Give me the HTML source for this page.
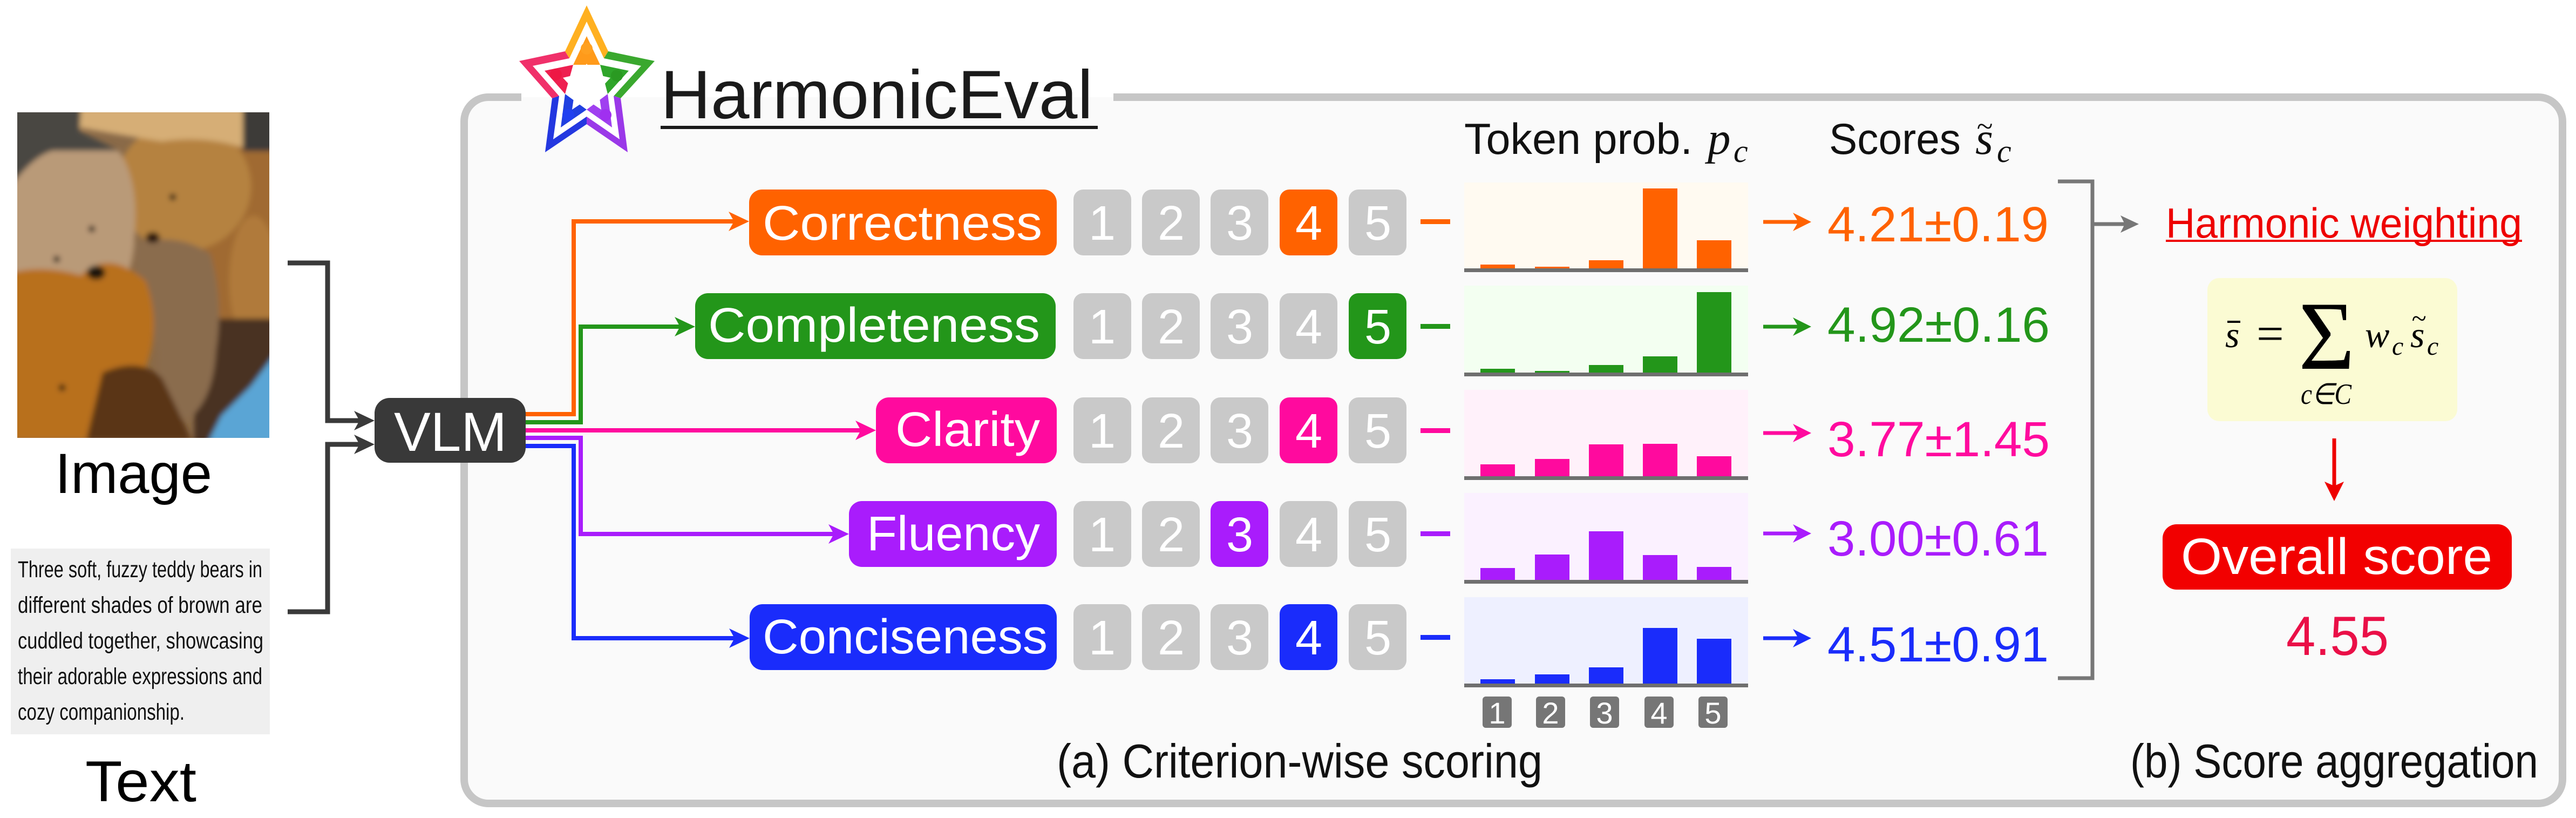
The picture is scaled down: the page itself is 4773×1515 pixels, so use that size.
<!DOCTYPE html>
<html><head><meta charset="utf-8"><style>
html,body{margin:0;padding:0;background:#fff;}
body{width:4773px;height:1515px;overflow:hidden;}
svg{display:block;}
.s{font-family:"Liberation Sans",sans-serif;}
.m{font-family:"Liberation Serif",serif;font-style:italic;}
</style></head><body>
<svg width="4773" height="1515" viewBox="0 0 4773 1515" xmlns="http://www.w3.org/2000/svg">
<defs>
<clipPath id="pc"><rect x="32" y="208" width="467" height="603"/></clipPath>
<filter id="bl" x="-10%" y="-10%" width="120%" height="120%"><feGaussianBlur stdDeviation="5"/></filter>
</defs>
<rect width="4773" height="1515" fill="#fff"/>

<!-- Panel -->
<rect x="860" y="180" width="3888" height="1308" rx="45" fill="#fafafa"/>
<path d="M966,180 H905 A45,45 0 0 0 860,225 V1443 A45,45 0 0 0 905,1488 H4703 A45,45 0 0 0 4748,1443 V225 A45,45 0 0 0 4703,180 H2063" fill="none" stroke="#c6c6c6" stroke-width="14"/>

<!-- Photo -->
<g clip-path="url(#pc)">
<rect x="32" y="208" width="467" height="603" fill="#8a6a48"/>
<g filter="url(#bl)">
<!-- right brown bear -->
<rect x="360" y="270" width="150" height="400" fill="#a06a32"/>
<ellipse cx="470" cy="520" rx="45" ry="120" fill="#b07a3a"/>
<!-- dark under-arm bottom right -->
<rect x="360" y="590" width="150" height="230" fill="#4a3020"/>
<!-- golden bear face -->
<ellipse cx="340" cy="345" rx="125" ry="120" fill="#b5823f"/>
<!-- light cream top of golden bear -->
<path d="M140,200 L460,200 L455,275 Q380,250 300,262 Q220,250 140,235 Z" fill="#d6ae76"/>
<!-- dark background top-left -->
<polygon points="20,200 150,200 147,243 220,279 97,279 20,350" fill="#4a4642"/>
<rect x="450" y="200" width="60" height="80" fill="#3e3a38"/>
<!-- tan bear head -->
<path d="M20,345 Q60,290 97,279 L220,279 Q255,330 250,420 Q248,500 230,516 L20,520 Z" fill="#b99a78"/>
<!-- middle gray-brown arm -->
<path d="M250,450 Q330,430 390,470 Q415,560 400,650 Q395,740 350,775 Q300,780 290,720 Q300,650 280,600 Q250,560 250,450 Z" fill="#8a6c4e"/>
<!-- orange bear -->
<path d="M20,505 Q80,490 150,510 Q200,460 270,520 Q300,600 270,680 Q220,760 160,815 L20,815 Z" fill="#b8701f"/>
<!-- dark brown behind orange bear -->
<path d="M190,690 Q260,660 300,700 Q330,760 355,815 L160,815 Z" fill="#5a3518"/>
<!-- blue -->
<polygon points="510,655 510,820 385,820 410,770 465,715" fill="#5aa5d5"/>
<!-- eyes/nose -->
<circle cx="170" cy="424" r="6" fill="#1a1210"/>
<circle cx="105" cy="480" r="6" fill="#1a1210"/>
<ellipse cx="178" cy="505" rx="17" ry="13" fill="#1a1210"/>
<circle cx="320" cy="365" r="6" fill="#1a1210"/>
<ellipse cx="283" cy="440" rx="13" ry="10" fill="#2a1810"/>
<circle cx="115" cy="718" r="6" fill="#1a1210"/>
</g>
</g>
<text x="102" y="913" class="s" font-size="105" textLength="291" lengthAdjust="spacingAndGlyphs" fill="#000">Image</text>
<rect x="20" y="1016" width="480" height="344" fill="#efefef"/>
<g class="s" font-size="43" fill="#111">
<text x="33" y="1069" textLength="453" lengthAdjust="spacingAndGlyphs">Three soft, fuzzy teddy bears in</text>
<text x="33" y="1135" textLength="453" lengthAdjust="spacingAndGlyphs">different shades of brown are</text>
<text x="33" y="1201" textLength="455" lengthAdjust="spacingAndGlyphs">cuddled together, showcasing</text>
<text x="33" y="1267" textLength="453" lengthAdjust="spacingAndGlyphs">their adorable expressions and</text>
<text x="33" y="1333" textLength="309" lengthAdjust="spacingAndGlyphs">cozy companionship.</text>
</g>
<text x="158" y="1484" class="s" font-size="107" textLength="206" lengthAdjust="spacingAndGlyphs" fill="#000">Text</text>

<!-- Black connectors -->
<path d="M533,487 H607 V779 H670" fill="none" stroke="#3a3a3a" stroke-width="9"/>
<path d="M533,1133 H607 V823 H670" fill="none" stroke="#3a3a3a" stroke-width="9"/>
<polygon points="694,779 656,761 666,779 656,797" fill="#3a3a3a"/>
<polygon points="694,823 656,805 666,823 656,841" fill="#3a3a3a"/>

<!-- Colored lines -->
<g fill="none" stroke-width="8">
<path d="M970,767 H1063 V410 H1362" stroke="#ff6200"/>
<path d="M970,782 H1076 V605 H1262" stroke="#23961a"/>
<path d="M970,797 H1597" stroke="#ff0a9e"/>
<path d="M970,811 H1076 V989 H1547" stroke="#a91cfc"/>
<path d="M970,826 H1063 V1182 H1363" stroke="#1a2cfb"/>
</g>
<polygon points="1388,410 1350,392 1360,410 1350,428" fill="#ff6200"/>
<polygon points="1288,605 1250,587 1260,605 1250,623" fill="#23961a"/>
<polygon points="1623,797 1585,779 1595,797 1585,815" fill="#ff0a9e"/>
<polygon points="1573,989 1535,971 1545,989 1535,1007" fill="#a91cfc"/>
<polygon points="1389,1182 1351,1164 1361,1182 1351,1200" fill="#1a2cfb"/>

<!-- VLM -->
<rect x="694" y="737" width="280" height="120" rx="28" fill="#393939"/>
<text x="730" y="835" class="s" font-size="102" textLength="209" lengthAdjust="spacingAndGlyphs" fill="#fff">VLM</text>

<!-- Logo -->
<g>
<polygon points="1087,10 1127,95 1087,160 1047,95" fill="#ffb020"/>
<polygon points="1213,113 1150,182 1087,160 1127,95" fill="#3aa82e"/>
<polygon points="1163,282 1087,230 1087,160 1150,182" fill="#9a38e8"/>
<polygon points="1010,282 1023,182 1087,160 1087,230" fill="#2438e0"/>
<polygon points="962,113 1047,95 1087,160 1023,182" fill="#f0306a"/>
<polygon points="1087,40 1119,108 1188,122 1137,178 1148,258 1087,216 1025,258 1036,178 987,122 1055,108" fill="#fff"/>
<polygon points="1087,67 1112,120 1062,120" fill="#ff9a1a"/>
<polygon points="1165,131 1126,174 1112,120" fill="#2fa52a"/>
<polygon points="1134,236 1087,203 1126,174" fill="#a040f0"/>
<polygon points="1039,236 1047,174 1087,203" fill="#2040e0"/>
<polygon points="1009,131 1062,120 1047,174" fill="#ee2050"/>
<polygon points="1087,118 1101,137 1131,144 1109,168 1114,203 1087,185 1060,203 1065,168 1043,144 1073,137" fill="#fff"/>
<circle cx="1087" cy="90" r="11" fill="#ffa020"/>
<circle cx="1030" cy="138" r="11" fill="#ee1844"/>
<circle cx="1143" cy="140" r="11" fill="#2a9a22"/>
<circle cx="1053" cy="213" r="11" fill="#2040f0"/>
<circle cx="1122" cy="213" r="11" fill="#a030f0"/>
</g>

<!-- Title -->
<text x="1224" y="219" class="s" font-size="127" textLength="801" lengthAdjust="spacingAndGlyphs" fill="#1a1a1a">HarmonicEval</text>
<rect x="1224" y="233" width="810" height="6" fill="#1a1a1a"/>

<!-- Label boxes -->
<rect x="1388" y="351" width="570" height="122" rx="24" fill="#ff6200"/>
<rect x="1288" y="543" width="668" height="122" rx="24" fill="#23961a"/>
<rect x="1623" y="736" width="335" height="122" rx="24" fill="#ff0a9e"/>
<rect x="1573" y="928" width="385" height="122" rx="24" fill="#a91cfc"/>
<rect x="1389" y="1119" width="569" height="122" rx="24" fill="#1a2cfb"/>
<g class="s" font-size="90" fill="#fff">
<text x="1413" y="444" textLength="518" lengthAdjust="spacingAndGlyphs">Correctness</text>
<text x="1312" y="633" textLength="615" lengthAdjust="spacingAndGlyphs">Completeness</text>
<text x="1659" y="826" textLength="268" lengthAdjust="spacingAndGlyphs">Clarity</text>
<text x="1606" y="1019" textLength="321" lengthAdjust="spacingAndGlyphs">Fluency</text>
<text x="1413" y="1210" textLength="528" lengthAdjust="spacingAndGlyphs">Conciseness</text>
</g>

<!-- Number boxes -->
<g>
<rect x="1989" y="351" width="107" height="122" rx="18" fill="#c9c9c9"/>
<rect x="2116" y="351" width="107" height="122" rx="18" fill="#c9c9c9"/>
<rect x="2243" y="351" width="107" height="122" rx="18" fill="#c9c9c9"/>
<rect x="2371" y="351" width="107" height="122" rx="18" fill="#ff6200"/>
<rect x="2499" y="351" width="107" height="122" rx="18" fill="#c9c9c9"/>
<rect x="1989" y="543" width="107" height="122" rx="18" fill="#c9c9c9"/>
<rect x="2116" y="543" width="107" height="122" rx="18" fill="#c9c9c9"/>
<rect x="2243" y="543" width="107" height="122" rx="18" fill="#c9c9c9"/>
<rect x="2371" y="543" width="107" height="122" rx="18" fill="#c9c9c9"/>
<rect x="2499" y="543" width="107" height="122" rx="18" fill="#23961a"/>
<rect x="1989" y="736" width="107" height="122" rx="18" fill="#c9c9c9"/>
<rect x="2116" y="736" width="107" height="122" rx="18" fill="#c9c9c9"/>
<rect x="2243" y="736" width="107" height="122" rx="18" fill="#c9c9c9"/>
<rect x="2371" y="736" width="107" height="122" rx="18" fill="#ff0a9e"/>
<rect x="2499" y="736" width="107" height="122" rx="18" fill="#c9c9c9"/>
<rect x="1989" y="928" width="107" height="122" rx="18" fill="#c9c9c9"/>
<rect x="2116" y="928" width="107" height="122" rx="18" fill="#c9c9c9"/>
<rect x="2243" y="928" width="107" height="122" rx="18" fill="#a91cfc"/>
<rect x="2371" y="928" width="107" height="122" rx="18" fill="#c9c9c9"/>
<rect x="2499" y="928" width="107" height="122" rx="18" fill="#c9c9c9"/>
<rect x="1989" y="1119" width="107" height="122" rx="18" fill="#c9c9c9"/>
<rect x="2116" y="1119" width="107" height="122" rx="18" fill="#c9c9c9"/>
<rect x="2243" y="1119" width="107" height="122" rx="18" fill="#c9c9c9"/>
<rect x="2371" y="1119" width="107" height="122" rx="18" fill="#1a2cfb"/>
<rect x="2499" y="1119" width="107" height="122" rx="18" fill="#c9c9c9"/>
</g>
<g class="s" font-size="90" fill="#fff" text-anchor="middle">
<text x="2042" y="444">1</text><text x="2170" y="444">2</text><text x="2297" y="444">3</text><text x="2425" y="444">4</text><text x="2553" y="444">5</text>
<text x="2042" y="636">1</text><text x="2170" y="636">2</text><text x="2297" y="636">3</text><text x="2425" y="636">4</text><text x="2553" y="636">5</text>
<text x="2042" y="829">1</text><text x="2170" y="829">2</text><text x="2297" y="829">3</text><text x="2425" y="829">4</text><text x="2553" y="829">5</text>
<text x="2042" y="1021">1</text><text x="2170" y="1021">2</text><text x="2297" y="1021">3</text><text x="2425" y="1021">4</text><text x="2553" y="1021">5</text>
<text x="2042" y="1212">1</text><text x="2170" y="1212">2</text><text x="2297" y="1212">3</text><text x="2425" y="1212">4</text><text x="2553" y="1212">5</text>
</g>

<!-- dashes -->
<rect x="2632" y="406" width="55" height="9" fill="#ff6200"/>
<rect x="2632" y="600" width="55" height="9" fill="#23961a"/>
<rect x="2632" y="793" width="55" height="9" fill="#ff0a9e"/>
<rect x="2632" y="984" width="55" height="9" fill="#a91cfc"/>
<rect x="2632" y="1176" width="55" height="9" fill="#1a2cfb"/>

<!-- Headers -->
<text x="2713" y="285" class="s" font-size="81" textLength="423" lengthAdjust="spacingAndGlyphs" fill="#111">Token prob.</text>
<text x="3164" y="285" class="m" font-size="85" fill="#111">p</text>
<text x="3212" y="300" class="m" font-size="60" fill="#111">c</text>
<text x="3389" y="285" class="s" font-size="81" textLength="244" lengthAdjust="spacingAndGlyphs" fill="#111">Scores</text>
<text x="3660" y="285" class="m" font-size="85" fill="#111">s</text>
<text x="3662" y="252" class="m" font-size="55" fill="#111">~</text>
<text x="3700" y="300" class="m" font-size="60" fill="#111">c</text>

<!-- Charts -->
<g>
<rect x="2713" y="338" width="526" height="160" fill="#fffaf1"/>
<rect x="2713" y="529" width="526" height="162" fill="#f3fff1"/>
<rect x="2713" y="722" width="526" height="161" fill="#fff1fa"/>
<rect x="2713" y="913" width="526" height="162" fill="#fbf1ff"/>
<rect x="2713" y="1106" width="526" height="161" fill="#eef0ff"/>
<g fill="#ff6200">
<rect x="2743" y="490" width="64" height="7"/><rect x="2844" y="494" width="64" height="3"/><rect x="2944" y="482" width="64" height="15"/><rect x="3044" y="349" width="64" height="148"/><rect x="3144" y="445" width="64" height="52"/>
</g>
<g fill="#23961a">
<rect x="2743" y="683" width="64" height="7"/><rect x="2844" y="687" width="64" height="3"/><rect x="2944" y="676" width="64" height="14"/><rect x="3044" y="660" width="64" height="30"/><rect x="3144" y="541" width="64" height="149"/>
</g>
<g fill="#ff0a9e">
<rect x="2743" y="860" width="64" height="22"/><rect x="2844" y="850" width="64" height="32"/><rect x="2944" y="823" width="64" height="59"/><rect x="3044" y="822" width="64" height="60"/><rect x="3144" y="845" width="64" height="37"/>
</g>
<g fill="#a91cfc">
<rect x="2743" y="1052" width="64" height="22"/><rect x="2844" y="1027" width="64" height="47"/><rect x="2944" y="984" width="64" height="90"/><rect x="3044" y="1028" width="64" height="46"/><rect x="3144" y="1050" width="64" height="24"/>
</g>
<g fill="#1a2cfb">
<rect x="2743" y="1258" width="64" height="8"/><rect x="2844" y="1249" width="64" height="17"/><rect x="2944" y="1236" width="64" height="30"/><rect x="3044" y="1163" width="64" height="103"/><rect x="3144" y="1183" width="64" height="83"/>
</g>
<g fill="#6f6f6f">
<rect x="2713" y="497" width="526" height="7"/>
<rect x="2713" y="690" width="526" height="7"/>
<rect x="2713" y="882" width="526" height="7"/>
<rect x="2713" y="1074" width="526" height="7"/>
<rect x="2713" y="1266" width="526" height="7"/>
</g>
<g fill="#767676">
<rect x="2747" y="1290" width="54" height="58" rx="6"/><rect x="2846" y="1290" width="54" height="58" rx="6"/><rect x="2946" y="1290" width="54" height="58" rx="6"/><rect x="3047" y="1290" width="54" height="58" rx="6"/><rect x="3147" y="1290" width="54" height="58" rx="6"/>
</g>
<g class="s" font-size="56" fill="#fff" text-anchor="middle">
<text x="2774" y="1340">1</text><text x="2873" y="1340">2</text><text x="2973" y="1340">3</text><text x="3074" y="1340">4</text><text x="3174" y="1340">5</text>
</g>
</g>

<!-- score arrows -->
<g stroke-width="7">
<line x1="3267" y1="411" x2="3338" y2="411" stroke="#ff6200"/>
<line x1="3267" y1="605" x2="3338" y2="605" stroke="#23961a"/>
<line x1="3267" y1="802" x2="3338" y2="802" stroke="#ff0a9e"/>
<line x1="3267" y1="988" x2="3338" y2="988" stroke="#a91cfc"/>
<line x1="3267" y1="1182" x2="3338" y2="1182" stroke="#1a2cfb"/>
</g>
<polygon points="3356,411 3322,394 3332,411 3322,428" fill="#ff6200"/>
<polygon points="3356,605 3322,588 3332,605 3322,622" fill="#23961a"/>
<polygon points="3356,802 3322,785 3332,802 3322,819" fill="#ff0a9e"/>
<polygon points="3356,988 3322,971 3332,988 3322,1005" fill="#a91cfc"/>
<polygon points="3356,1182 3322,1165 3332,1182 3322,1199" fill="#1a2cfb"/>

<!-- scores -->
<g class="s" font-size="92">
<text x="3386" y="447" textLength="410" lengthAdjust="spacingAndGlyphs" fill="#ff6200">4.21±0.19</text>
<text x="3386" y="633" textLength="412" lengthAdjust="spacingAndGlyphs" fill="#23961a">4.92±0.16</text>
<text x="3386" y="845" textLength="412" lengthAdjust="spacingAndGlyphs" fill="#ff0a9e">3.77±1.45</text>
<text x="3386" y="1029" textLength="410" lengthAdjust="spacingAndGlyphs" fill="#a91cfc">3.00±0.61</text>
<text x="3386" y="1225" textLength="410" lengthAdjust="spacingAndGlyphs" fill="#1a2cfb">4.51±0.91</text>
</g>

<!-- bracket -->
<path d="M3813,336 H3877 V1256 H3813" fill="none" stroke="#777" stroke-width="7"/>
<line x1="3877" y1="415" x2="3940" y2="415" stroke="#777" stroke-width="7"/>
<polygon points="3963,415 3929,399 3937,415 3929,431" fill="#777"/>

<!-- Right side -->
<text x="4013" y="440" class="s" font-size="78" textLength="660" lengthAdjust="spacingAndGlyphs" fill="#ee0000">Harmonic weighting</text>
<rect x="4013" y="444" width="660" height="4" fill="#ee0000"/>
<rect x="4090" y="515" width="463" height="265" rx="22" fill="#fbfbd3"/>
<text x="4123" y="643" class="m" font-size="68" fill="#000">s</text>
<rect x="4127" y="594" width="24" height="4" fill="#000"/>
<text x="4181" y="648" font-family="Liberation Serif, serif" font-size="90" fill="#000">=</text>
<text x="4259" y="683" font-family="Liberation Serif, serif" font-size="181" textLength="104" lengthAdjust="spacingAndGlyphs" fill="#000">Σ</text>
<text x="4382" y="643" class="m" font-size="68" fill="#000">w</text>
<text x="4432" y="657" class="m" font-size="48" fill="#000">c</text>
<text x="4466" y="643" class="m" font-size="68" fill="#000">s</text>
<text x="4468" y="606" class="m" font-size="50" fill="#000">~</text>
<text x="4497" y="657" class="m" font-size="48" fill="#000">c</text>
<text x="4263" y="748" class="m" font-size="54" textLength="94" lengthAdjust="spacingAndGlyphs" fill="#000">c∈C</text>

<line x1="4325" y1="812" x2="4325" y2="902" stroke="#ee0000" stroke-width="7"/>
<polygon points="4325,928 4307,892 4325,900 4343,892" fill="#ee0000"/>

<rect x="4007" y="971" width="647" height="121" rx="26" fill="#f20000"/>
<text x="4041" y="1063" class="s" font-size="95" textLength="577" lengthAdjust="spacingAndGlyphs" fill="#fff">Overall score</text>
<text x="4236" y="1213" class="s" font-size="102" textLength="190" lengthAdjust="spacingAndGlyphs" fill="#ea0f47">4.55</text>

<!-- Captions -->
<text x="1958" y="1440" class="s" font-size="88" textLength="900" lengthAdjust="spacingAndGlyphs" fill="#111">(a) Criterion-wise scoring</text>
<text x="3947" y="1440" class="s" font-size="88" textLength="756" lengthAdjust="spacingAndGlyphs" fill="#111">(b) Score aggregation</text>
</svg>
</body></html>
